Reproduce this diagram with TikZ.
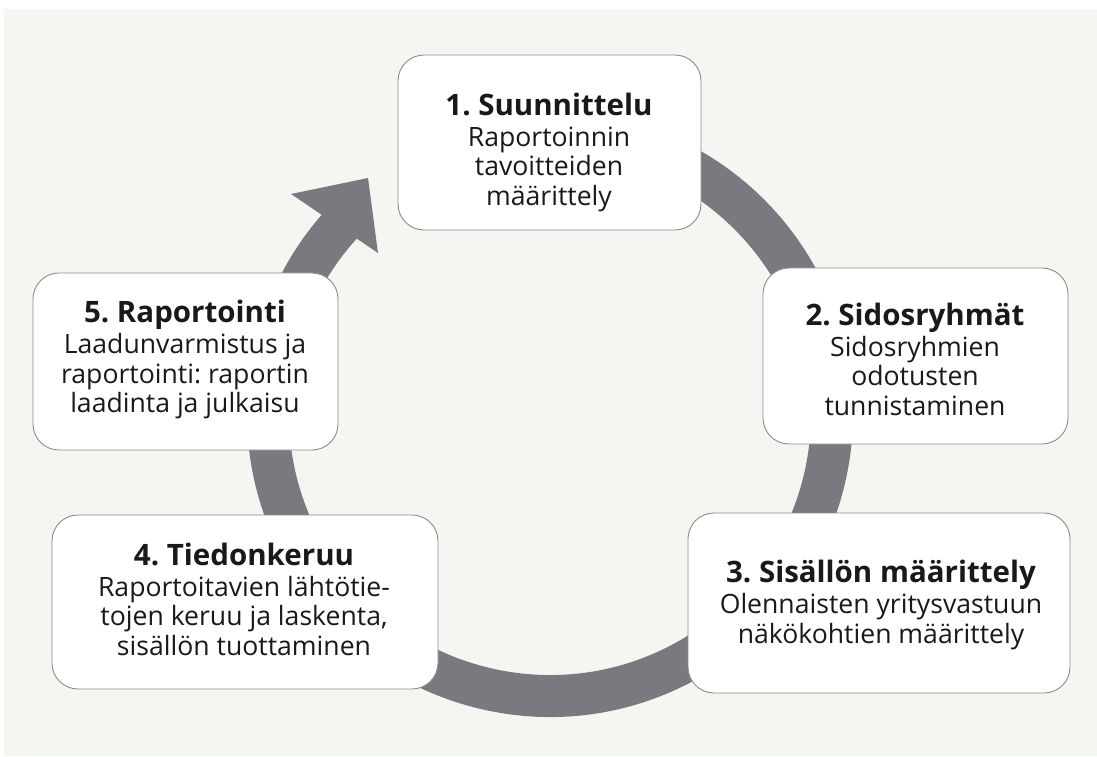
\documentclass[tikz,border=0pt]{standalone}
\usepackage{fontspec}
\setmainfont{Open Sans}
\frenchspacing
\definecolor{ringgray}{RGB}{124,120,128}
\definecolor{pagebg}{RGB}{244,246,242}
\definecolor{boxline}{RGB}{140,140,140}
\definecolor{inkcol}{RGB}{25,25,25}
\begin{document}
\begin{tikzpicture}[x=1pt,y=1pt,
  stagebox/.style={draw=boxline, line width=0.9pt, fill=white, rounded corners=26pt, inner sep=0pt},
  stagetext/.style={align=center, inner sep=0pt, text=inkcol, font=\fontsize{26.6}{29.5}\selectfont},
  ring/.style={ringgray, line width=42pt}
]
\newcommand{\stagettl}[1]{{\fontsize{29.5}{29.5}\selectfont\bfseries #1}\\[1.5pt]}
\useasboundingbox (0,0) rectangle (1097,756);
\fill[white] (0,0) rectangle (1097,756);
\fill[pagebg] (4,0) rectangle (1097,747);
% ring arrow
\coordinate (c) at (550,342);
\draw[ring] (c) ++(80:282) arc[start angle=80, end angle=-223, radius=282];
\coordinate (hb1) at (291,562);
\coordinate (ht) at (368,578);
\coordinate (hb2) at (378,503);
\fill[ringgray] (hb1) -- (ht) -- (hb2) -- cycle;
% boxes
\node[stagebox, minimum width=303pt, minimum height=175pt] (b1) at (549.5,613.5) {};
\node[stagebox, minimum width=305pt, minimum height=176pt] (b2) at (915.5,400) {};
\node[stagebox, minimum width=382pt, minimum height=180pt] (b3) at (879,153) {};
\node[stagebox, minimum width=386pt, minimum height=174pt] (b4) at (245,154) {};
\node[stagebox, minimum width=305pt, minimum height=177pt] (b5) at (185.5,394.5) {};
% texts
\node[stagetext] (t1) at (549,604) {\stagettl{1. Suunnittelu}Raportoinnin\\tavoitteiden\\määrittely};
\node[stagetext] (t2) at (915,397) {\stagettl{2. Sidosryhmät}Sidosryhmien\\odotusten\\tunnistaminen};
\node[stagetext] (t3) at (881,151) {\stagettl{3. Sisällön määrittely}Olennaisten yritysvastuun\\näkökohtien määrittely};
\node[stagetext] (t4) at (244,157) {\stagettl{4. Tiedonkeruu}Raportoitavien lähtötie-\\tojen keruu ja laskenta,\\sisällön tuottaminen};
\node[stagetext] (t5) at (185,396.5) {\stagettl{5. Raportointi}Laadunvarmistus ja\\raportointi: raportin\\laadinta ja julkaisu};
\end{tikzpicture}
\end{document}
